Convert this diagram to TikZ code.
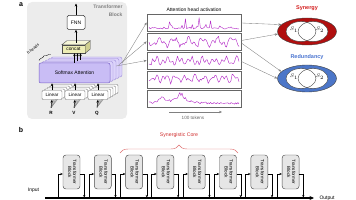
\documentclass[tikz,border=0pt]{standalone}
\usepackage{fontspec}
\setmainfont{Liberation Sans}
\usetikzlibrary{arrows.meta,decorations.pathreplacing,calc,shapes.geometric}
\definecolor{panelgray}{HTML}{ECECEC}
\definecolor{smfill}{HTML}{C9BDF5}
\definecolor{smborder}{HTML}{7A62C8}
\definecolor{smbkfill}{HTML}{DCD3FA}
\definecolor{smbkborder}{HTML}{9C8BD8}
\definecolor{cfront}{HTML}{EDEDB5}
\definecolor{ctop}{HTML}{F6F6D8}
\definecolor{cside}{HTML}{CFCF90}
\definecolor{sigcol}{HTML}{B530C8}
\definecolor{synred}{HTML}{B00F0F}
\definecolor{synlab}{HTML}{D42020}
\definecolor{redblue}{HTML}{4C76C8}
\definecolor{redlab}{HTML}{4A74D0}
\definecolor{tbfill}{HTML}{E6E6E6}
\definecolor{corered}{HTML}{D03030}
\tikzset{
 arr/.style={-{Stealth[length=3pt,width=2.6pt]}, line width=0.7pt, draw=black},
 garr/.style={-{Stealth[length=3pt,width=2.4pt]}, draw=gray, line width=0.35pt},
 warr/.style={-{Stealth[length=2.5pt,width=2.2pt]}, line width=0.45pt},
 fnnbox/.style={draw=black!80, fill=white, rounded corners=1.5pt, minimum width=18pt, minimum height=14pt, inner sep=0pt, line width=0.5pt, font=\fontsize{5}{5}\selectfont},
 smbox/.style={draw=smborder, fill=smfill, rounded corners=2pt, minimum width=71pt, minimum height=20pt, inner sep=0pt, line width=0.5pt},
 smbk/.style={draw=smbkborder, fill=smbkfill, rounded corners=2pt, minimum width=71pt, minimum height=20pt, inner sep=0pt, line width=0.4pt},
 linbox/.style={draw=gray!90!black, fill=white, rounded corners=1pt, minimum width=20pt, minimum height=9pt, inner sep=0pt, line width=0.4pt, font=\fontsize{4.6}{5}\selectfont},
 abox/.style={draw=gray!80!black, line width=0.7pt, minimum width=94pt, minimum height=17pt, inner sep=0pt},
 sig/.style={draw=sigcol, line width=0.45pt, line join=round},
 tblock/.style={draw=black!70, fill=tbfill, rounded corners=3pt, minimum width=17pt, minimum height=34pt, inner sep=0pt, line width=0.45pt, font=\fontsize{4.6}{5}\selectfont},
 wire/.style={line width=0.45pt},
 ringsyn/.style={ellipse, draw=black!75, fill=synred, line width=0.4pt, minimum width=59pt, minimum height=27pt, inner sep=0pt},
 ringred/.style={ellipse, draw=black!75, fill=redblue, line width=0.4pt, minimum width=59pt, minimum height=27pt, inner sep=0pt},
}
\begin{document}
\begin{tikzpicture}[x=1pt,y=-1pt]
\useasboundingbox (0,0) rectangle (356,200);
\pgfmathsetseed{11}
% ---------------- panel a
\fill[panelgray, rounded corners=5pt] (27,2) rectangle (127,119);
\node[font=\bfseries\fontsize{7}{7}\selectfont] (la) at (21,4.5) {a};
\node[anchor=east, text=gray, font=\bfseries\fontsize{5}{5}\selectfont] (tt1) at (126,7) {Transformer};
\node[anchor=east, text=gray, font=\bfseries\fontsize{5}{5}\selectfont] (tt2) at (126,14.5) {Block};
% FNN
\node[fnnbox] (fnn) at (76,22.5) {FNN};
\coordinate (topout) at (76,3.5);
\draw[arr] (fnn.north) -- (topout);
% concat cuboid
\node[draw=black!70, fill=cfront, minimum width=23pt, minimum height=8pt, inner sep=0pt, line width=0.4pt, font=\fontsize{4.8}{5}\selectfont] (concat) at (73.5,49) {concat};
\filldraw[fill=ctop, draw=black!70, line width=0.4pt] (concat.north west) -- ++(5,-4) -- ($(concat.north east)+(5,-4)$) -- (concat.north east) -- cycle;
\filldraw[fill=cside, draw=black!70, line width=0.4pt] (concat.north east) -- ++(5,-4) -- ($(concat.south east)+(5,-4)$) -- (concat.south east) -- cycle;
\draw[arr] ($(concat.north)+(2.5,-2)$) -- (fnn.south);
% softmax stack
\foreach \k in {4,3,2,1} {
  \node[smbk] (sm\k) at ({74.5+3*\k},{73-1.5*\k}) {};
}
\node[smbox, font=\fontsize{5}{5}\selectfont] (sm0) at (74.5,73) {Softmax Attention};
\foreach \k in {0,1,2} {
  \draw[arr, line width=0.55pt] (sm\k.north) -- (sm\k.north |- concat.south);
}
% h heads
\draw[decorate, decoration={brace, amplitude=2pt}, line width=0.4pt] (39,60.5) -- (51,54.5);
\node[rotate=38, font=\fontsize{4}{4}\selectfont] (hh) at (33,49) {h heads};
% linear stacks
\foreach \j/\c/\lab in {1/52/R,2/75/V,3/98/Q} {
  \node[font=\bfseries\fontsize{4.6}{5}\selectfont] (in\j) at ({\c-1},113) {\lab};
  \foreach \k in {4,3,2,1} {
    \coordinate (fan\j\k) at ({\c+2.5*\k},{99.5-1.5*\k});
    \draw[gray, line width=0.3pt] (in\j.north) -- (fan\j\k);
  }
  \foreach \k in {4,3,2,1} {
    \node[linbox] (lin\j\k) at ({\c+2.5*\k},{95-1.5*\k}) {};
  }
  \node[linbox] (lin\j0) at (\c,95) {Linear};
  \draw[arr, line width=0.5pt] (in\j.north) -- (lin\j0.south);
  \draw[arr, line width=0.55pt] (lin\j0.north) -- (lin\j0.north |- sm0.south);
}
% ---------------- attention activations
\node[font=\fontsize{5}{5}\selectfont] (atitle) at (194,9.5) {Attention head activation};
\foreach \i in {1,...,5} {
  \node[abox] (ab\i) at (194,{22.5+19*(\i-1)}) {};
}
\draw[sig] plot[domain=0:90, samples=80] ({149+\x}, {29 - 1.2*rnd - 12*pow(rnd,6)});
\draw[sig] plot[domain=0:90, samples=80] ({149+\x}, {42 + 3*sin(25*\x) + 2*sin(61*\x+20) + 3*(rnd-0.5)});
\draw[sig] plot[domain=0:90, samples=80] ({149+\x}, {61 + 2.5*sin(31*\x+50) + 2*sin(73*\x) + 3*(rnd-0.5)});
\draw[sig] plot[domain=0:90, samples=80] ({149+\x}, {78.5 + 2.5*sin(37*\x+10) + 2*sin(67*\x+70) + 3*(rnd-0.5)});
\draw[sig] plot[domain=0:90, samples=80] ({149+\x}, {104.5 - 2*rnd - 11*(0.6+0.4*rnd)/(1+((\x-31)/6)^2) - 6/(1+((\x-13)/3)^2)});
\coordinate (tk1) at (169,112);
\coordinate (tk2) at (222,112);
\draw[garr] (tk1) -- (tk2);
\node[text=gray!80!black, font=\fontsize{4.6}{5}\selectfont] (tk) at (193,117.5) {100 tokens};
% arrows from heads
\draw[garr] ($(sm4.east)+(0,-4)$) -- (ab1.west);
\draw[garr] ($(sm3.east)+(0,-4)$) -- (ab2.west);
\draw[garr] ($(sm2.east)+(0,-4)$) -- (ab3.west);
% ---------------- synergy / redundancy
\node[text=synlab, font=\bfseries\fontsize{5.5}{5.5}\selectfont] (synl) at (307,8) {Synergy};
\node[ringsyn] (syn) at (307,31.5) {};
\fill[white] (301,31.5) ellipse [x radius=15pt, y radius=10pt];
\fill[white] (313,31.5) ellipse [x radius=15pt, y radius=10pt];
\draw[black!75, line width=0.4pt] (301,31.5) ellipse [x radius=15pt, y radius=10pt];
\draw[black!75, line width=0.4pt] (313,31.5) ellipse [x radius=15pt, y radius=10pt];
\node[font=\fontsize{5}{5}\selectfont] (s1a) at (294,30) {$S_1$};
\node[font=\fontsize{5}{5}\selectfont] (s2a) at (320,30) {$S_2$};
\node[text=redlab, font=\bfseries\fontsize{5.5}{5.5}\selectfont] (redl) at (307,57.5) {Redundancy};
\node[ringred] (red) at (307,78.5) {};
\fill[white] (301,78.5) ellipse [x radius=15pt, y radius=10pt];
\fill[white] (313,78.5) ellipse [x radius=15pt, y radius=10pt];
\draw[black!75, line width=0.4pt] (301,78.5) ellipse [x radius=15pt, y radius=10pt];
\draw[black!75, line width=0.4pt] (313,78.5) ellipse [x radius=15pt, y radius=10pt];
\node[font=\fontsize{5}{5}\selectfont] (s1b) at (294,77) {$S_1$};
\node[font=\fontsize{5}{5}\selectfont] (s2b) at (320,77) {$S_2$};
\draw[garr] ($(ab1.east)+(0,0.5)$) -- (syn.165);
\draw[garr] ($(ab2.east)+(0,-1)$) -- (syn.185);
\draw[garr] ($(ab2.east)+(0,1.5)$) -- (red.165);
\draw[garr] ($(ab3.east)+(0,1)$) -- (red.180);
% ---------------- panel b
\node[font=\bfseries\fontsize{7}{7}\selectfont] (lb) at (21,130) {b};
\node[text=corered, font=\fontsize{5.2}{5.2}\selectfont] (core) at (179,135) {Synergistic Core};
\draw[decorate, decoration={brace, amplitude=8pt}, draw=corered!70, line width=0.45pt] (120,153) -- (238,153);
\foreach \i in {1,...,8} {
  \pgfmathsetmacro\bx{71.5+31.3*(\i-1)}
  \node[tblock] (b\i) at (\bx,172) {\rotatebox{-90}{\begin{tabular}{@{}c@{}}Transformer\\Block\end{tabular}}};
  \draw[wire,warr] ($(b\i.west)+(-5,26)$) |- ($(b\i.west)+(0,2)$);
  \draw[wire,warr] ($(b\i.east)+(0,2)$) -| ($(b\i.east)+(4,25.5)$);
}
\coordinate (inp) at (45,198);
\coordinate (outp) at (314,198);
\draw[line width=1.3pt, -{Stealth[length=4.5pt,width=4pt]}] (inp) -- (outp);
\node[font=\fontsize{5}{5}\selectfont] (inl) at (33.5,190) {Input};
\node[anchor=west, font=\fontsize{5}{5}\selectfont] (outl) at (316,198.5) {Output};
\end{tikzpicture}
\end{document}
